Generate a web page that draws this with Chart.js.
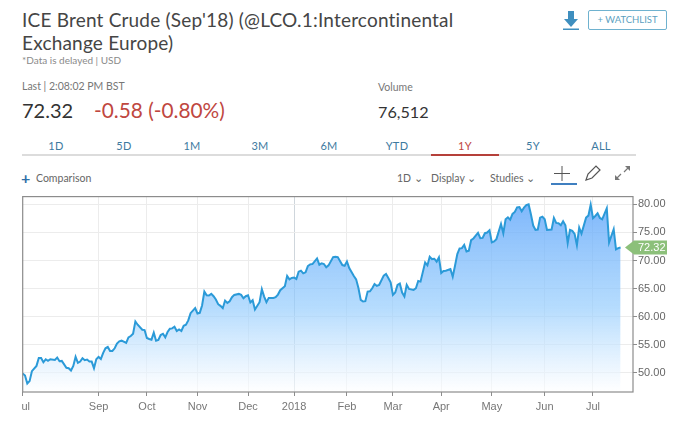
<!DOCTYPE html>
<html>
<head>
<meta charset="utf-8">
<script src="https://cdn.jsdelivr.net/npm/chart.js@4"></script>
<style>
html, body { margin: 0; padding: 0; background: #fff; }
body { width: 680px; height: 422px; position: relative; overflow: hidden; font-family: Lato, sans-serif; }
.t { position: absolute; white-space: nowrap; line-height: 1; }
#title { left: 22px; top: 9px; font-size: 19px; line-height: 22.5px; color: #454545; letter-spacing: 0.2px; white-space: normal; width: 450px; }
.tab { position: absolute; top: 140px; width: 60px; text-align: center; font-size: 11px; color: #3d7a9f; line-height: 1; letter-spacing: 0.3px; }
.tool { top: 173px; font-size: 10.5px; color: #666; }
#chartBox { position: absolute; left: 0; top: 189px; width: 680px; height: 233px; }
svg { position: absolute; }
</style>
</head>
<body>
<div class="t" id="title">ICE Brent Crude (Sep'18) (@LCO.1:Intercontinental Exchange Europe)</div>
<div class="t" style="left:22px;top:55px;font-size:10px;color:#8a8a8a">*Data is delayed | USD</div>
<div class="t" style="left:22px;top:81px;font-size:10.5px;color:#777">Last | 2:08:02 PM BST</div>
<div class="t" style="left:22px;top:100px;font-size:20px;color:#333">72.32</div>
<div class="t" style="left:94px;top:100px;font-size:20.8px;color:#c0473f">-0.58 (-0.80%)</div>
<div class="t" style="left:378px;top:104px;font-size:16.2px;color:#333">76,512</div>
<div class="t" style="left:378px;top:82px;font-size:10.5px;color:#777">Volume</div>

<svg style="left:562px;top:10px" width="18" height="22" viewBox="0 0 18 22">
  <path d="M6 1h6v8h4l-7 8-7-8h4z" fill="#3f8fbf"/><rect x="1" y="18.5" width="16" height="1.5" fill="#3f8fbf"/>
</svg>
<div class="t" style="left:588px;top:10px;width:77px;height:18px;border:1.5px solid #6fb2cf;border-radius:2px;text-align:center;line-height:18px;font-size:9.5px;color:#5c9fbf">+ WATCHLIST</div>

<div class="tab" style="left:26px">1D</div>
<div class="tab" style="left:94px">5D</div>
<div class="tab" style="left:162px">1M</div>
<div class="tab" style="left:230px">3M</div>
<div class="tab" style="left:299px">6M</div>
<div class="tab" style="left:367px">YTD</div>
<div class="tab" style="left:435px;color:#c0473f">1Y</div>
<div class="tab" style="left:503px">5Y</div>
<div class="tab" style="left:571px">ALL</div>
<div style="position:absolute;left:22px;top:154px;width:614px;height:2px;background:#dcdcdc"></div>
<div style="position:absolute;left:431px;top:154px;width:68px;height:2px;background:#b5403a"></div>

<div class="t" style="left:21px;top:170px;font-size:16px;font-weight:bold;color:#2f6fa8">+</div>
<div class="t tool" style="left:36px">Comparison</div>
<div class="t tool" style="left:397px">1D ⌄</div>
<div class="t tool" style="left:431px">Display ⌄</div>
<div class="t tool" style="left:490px">Studies ⌄</div>
<svg style="left:548px;top:162px" width="90" height="26" viewBox="0 0 90 26">
  <path d="M14 4v15M6 11.5h16" stroke="#555" stroke-width="1" fill="none"/>
  <rect x="3" y="21" width="26" height="2" fill="#3f7fc0"/>
  <path d="M38 18l2-6 8-8 4 4-8 8z" stroke="#555" stroke-width="1.2" fill="none"/>
  <path d="M68 17l5-5M81 5l-5 5" stroke="#777" stroke-width="1.2"/>
  <path d="M67 13v5h5z" fill="#777"/><path d="M82 9V4h-5z" fill="#777"/>
</svg>

<div id="chartBox"><canvas id="brentChart" width="680" height="233"></canvas></div>

<script>
// trading day index (0 = first day on the chart) and close price
const days = [0,1,2,3,4,6,7,8,9,10,11,12,14,15,16,17,19,20,21,22,23,24,25,26,27,28,29,30,31,32,33,34,35,36,37,38,39,40,41,42,43,45,46,47,48,49,50,52,53,54,55,56,57,58,59,60,61,62,63,64,65,66,67,68,69,70,71,72,73,75,76,77,78,79,80,81,82,83,84,85,86,87,88,89,
  90,91,92,94,95,96,97,98,99,100,101,103,104,105,106,107,109,110,111,112,114,115,116,117,118,119,120,121,122,123,124,125,126,128,129,130,131,132,133,135,136,137,139,140,141,142,144,145,146,147,148,149,150,151,152,153,154,155,157,158,159,160,161,162,163,164,165,166,167,168,170,171,172,173,175,176,177,178,179,180,181,
  182,183,184,186,187,188,189,190,191,192,193,194,195,196,198,199,200,201,202,203,204,205,206,208,209,210,211,212,213,214,215,216,217,218,219,220,221,222,223,224,225,226,227,228,230,231,232,233,234,235,236,237,238,239,240,241,242,243,245,246,247,248,249,250,251,252,254,255,257,258,259,260];
const prices = [49.87,49.52,48.10,48.52,50.29,51.23,52.65,52.65,51.88,52.41,52.12,52.41,52.30,52.71,52.06,52.12,50.88,50.82,50.41,51.23,52.83,51.76,52.00,52.59,52.24,52.35,52.00,52.00,50.82,52.41,52.83,52.47,53.54,54.36,54.60,53.89,53.89,54.36,55.19,55.60,55.72,55.31,56.31,56.55,56.96,59.15,58.56,57.67,57.61,56.19,56.02,55.90,57.14,55.72,55.84,56.73,56.96,56.31,57.26,57.85,57.91,58.20,57.44,57.73,57.44,58.38,58.56,59.33,60.62,61.51,60.57,60.68,61.98,64.46,63.81,63.76,64.05,63.64,63.05,62.22,61.92,61.51,62.87,62.46,
  62.75,63.46,63.87,64.05,63.87,63.28,63.64,63.81,62.52,62.93,61.27,62.57,64.88,63.58,62.57,63.34,63.34,63.46,63.93,64.70,65.41,67.24,66.65,66.89,66.95,66.71,68.01,68.19,67.71,67.89,69.01,69.31,69.37,70.37,69.25,69.49,69.37,68.78,69.13,70.61,70.67,70.61,69.19,69.07,69.84,68.66,67.24,66.65,65.11,62.99,62.69,62.75,64.46,64.52,65.06,65.82,65.47,65.65,67.30,67.60,66.89,66.12,63.87,64.29,65.65,65.88,64.29,63.58,65.65,64.94,64.76,65.06,66.35,66.24,69.66,69.13,70.67,70.25,70.31,69.78,70.55,
  67.77,68.13,68.19,68.48,67.12,69.07,71.14,72.14,72.20,72.79,71.61,71.73,73.62,73.92,74.92,73.97,74.03,74.86,74.98,75.39,73.21,73.38,73.80,76.51,74.86,77.34,77.70,77.28,78.29,78.64,79.47,79.53,78.76,79.41,79.88,80.00,78.23,76.22,75.45,75.51,77.64,77.81,77.34,75.45,75.51,77.58,76.69,76.63,76.28,76.99,76.28,73.09,75.45,75.27,74.74,72.73,75.87,74.80,77.64,77.99,79.94,77.52,77.93,78.41,77.58,77.34,79.29,73.21,75.57,71.97,72.20,72.32];

const xTickDays = [0,33,54,76,98,118,141,161,182,204,227,248];
const xTickLabels = ['  ul','Sep','Oct','Nov','Dec','2018','Feb','Mar','Apr','May','Jun','Jul'];
const yTicks = [50,55,60,65,70,75,80];
const yearTickDay = 118;

const lastPrice = prices[prices.length - 1];

// plot frame and the green last price tag
const framePlugin = {
    id: 'frameAndTag',
    afterDraw(chart) {
        const c = chart.ctx, a = chart.chartArea;
        c.save();
        c.strokeStyle = '#8c8c8c';
        c.lineWidth = 1.2;
        c.strokeRect(a.left, a.top, a.right - a.left, a.bottom - a.top);

        const y = chart.scales.y.getPixelForValue(lastPrice);
        c.fillStyle = '#8cc07a';
        c.beginPath();
        c.moveTo(625, y);
        c.lineTo(634, y - 7);
        c.lineTo(667, y - 7);
        c.lineTo(667, y + 7);
        c.lineTo(634, y + 7);
        c.closePath();
        c.fill();
        c.fillStyle = '#fff';
        c.font = '11px "Liberation Sans"';
        c.textAlign = 'left';
        c.textBaseline = 'middle';
        c.fillText(lastPrice.toFixed(2), 638, y + 0.5);
        c.restore();
    }
};

new Chart(document.getElementById('brentChart').getContext('2d'), {
    type: 'line',
    data: {
        datasets: [{
            data: days.map((d, i) => ({ x: d, y: prices[i] })),
            borderColor: '#2b9ad8',
            borderWidth: 2,
            pointRadius: 0,
            tension: 0,
            fill: 'start',
            backgroundColor(ctx) {
                const a = ctx.chart.chartArea;
                if (!a) return 'transparent';
                const g = ctx.chart.ctx.createLinearGradient(0, a.top + 8, 0, a.bottom);
                g.addColorStop(0, 'rgba(96,166,250,0.8)');
                g.addColorStop(0.55, 'rgba(150,205,253,0.7)');
                g.addColorStop(1, 'rgba(255,255,255,0.6)');
                return g;
            }
        }]
    },
    options: {
        responsive: false,
        animation: false,
        layout: { padding: { left: 22.7, top: 5.5, right: 0, bottom: 0 } },
        plugins: { legend: { display: false }, tooltip: { enabled: false } },
        scales: {
            x: {
                type: 'linear',
                min: 0,
                max: 265.4,
                afterBuildTicks(scale) { scale.ticks = xTickDays.map(v => ({ value: v })); },
                afterFit(scale) { scale.height = 30; },
                border: { display: false },
                grid: {
                    color: ctx => ctx.tick && ctx.tick.value === yearTickDay ? '#cfd6dc' : '#ececec',
                    tickColor: '#8c8c8c',
                    tickLength: 4
                },
                ticks: {
                    autoSkip: false,
                    maxRotation: 0,
                    padding: 4,
                    color: '#777',
                    font: { family: '"Liberation Sans"', size: 11 },
                    callback: v => xTickLabels[xTickDays.indexOf(v)]
                }
            },
            y: {
                position: 'right',
                min: 46.58,
                max: 81.38,
                afterBuildTicks(scale) { scale.ticks = yTicks.map(v => ({ value: v })); },
                afterFit(scale) { scale.width = 47; },
                border: { display: false },
                grid: { color: '#ececec', tickColor: '#8c8c8c', tickLength: 4 },
                ticks: {
                    padding: 1,
                    color: '#666',
                    font: { family: '"Liberation Sans"', size: 11 },
                    callback: v => v.toFixed(2)
                }
            }
        }
    },
    plugins: [framePlugin]
});
</script>
</body>
</html>
